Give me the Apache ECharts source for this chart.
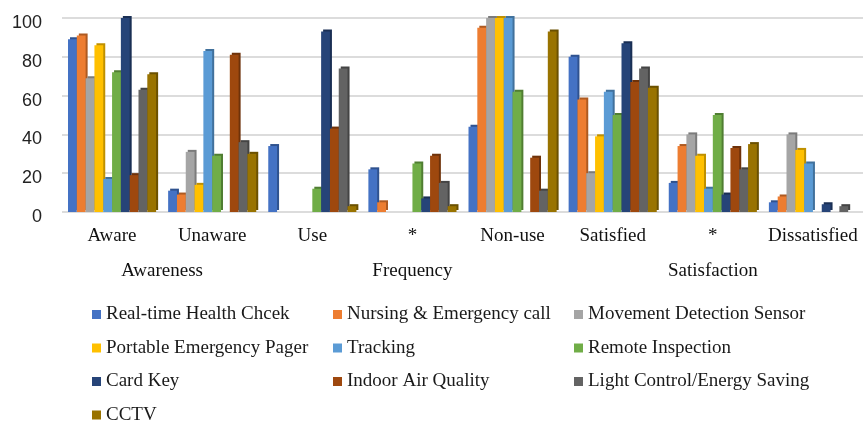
<!DOCTYPE html>
<html>
<head>
<meta charset="utf-8">
<script src="https://cdn.jsdelivr.net/npm/echarts@6/dist/echarts.min.js"></script>
<style>
  html, body { margin: 0; padding: 0; background: #ffffff; }
  #chart { width: 863px; height: 423px; }
</style>
</head>
<body>
<div id="chart"></div>
<script>
// Response categories along the x axis
const categories = ['Aware', 'Unaware', 'Use', '*', 'Non-use', 'Satisfied', '*', 'Dissatisfied'];
// Question groups and the category position where each group label is centred
const groupNames = ['Awareness', 'Frequency', 'Satisfaction'];
const groupCenters = [1, 3.5, 6.5];
// Y axis ticks
const yTicks = { min: 0, max: 100, interval: 20 };

// Service names (legend order) and their values per category (%)
const seriesNames = [
  'Real-time Health Chcek', 'Nursing & Emergency call', 'Movement Detection Sensor',
  'Portable Emergency Pager', 'Tracking', 'Remote Inspection',
  'Card Key', 'Indoor Air Quality', 'Light Control/Energy Saving', 'CCTV'
];
const realTimeHealth   = [89, 11, 34, 22, 44, 80, 15, 5];
const nursingCall      = [91, 9, 0, 5, 95, 58, 34, 8];
const movementSensor   = [69, 31, 0, 0, 100, 20, 40, 40];
const portablePager    = [86, 14, 0, 0, 100, 39, 29, 32];
const tracking         = [17, 83, 0, 0, 100, 62, 12, 25];
const remoteInspection = [72, 29, 12, 25, 62, 50, 50, 0];
const cardKey          = [100, 0, 93, 7, 0, 87, 9, 4];
const indoorAir        = [19, 81, 43, 29, 28, 67, 33, 0];
const lightControl     = [63, 36, 74, 15, 11, 74, 22, 3];
const cctv             = [71, 30, 3, 3, 93, 64, 35, 0];
const seriesValues = [realTimeHealth, nursingCall, movementSensor, portablePager, tracking,
                      remoteInspection, cardKey, indoorAir, lightControl, cctv];

// Face colours and darker side colours for the extruded look
const faceColors = ['#4472C4', '#ED7D31', '#A5A5A5', '#FFC000', '#5B9BD5',
                    '#70AD47', '#264478', '#9E480E', '#636363', '#997300'];
const sideColors = ['#2F528F', '#AE5A21', '#7B7B7B', '#BF9000', '#41719C',
                    '#507E32', '#1A2F54', '#6E320A', '#444444', '#6B5100'];

// Legend columns (series indices per column)
const legendColumns = [[0, 3, 6, 9], [1, 4, 7], [2, 5, 8]];
const legendLefts = [92, 333, 574];

const chart = echarts.init(document.getElementById('chart'), null, { renderer: 'canvas' });

const serifFont = '"Liberation Serif", "Times New Roman", serif';
const sansFont = '"Liberation Sans", Arial, sans-serif';

const series = seriesNames.map((name, i) => ({
  name: name,
  type: 'bar',
  xAxisIndex: 0,
  barGap: '0%',
  barCategoryGap: '12%',
  data: seriesValues[i],
  itemStyle: {
    color: faceColors[i],
    shadowColor: sideColors[i],
    shadowBlur: 0,
    shadowOffsetX: 2,
    shadowOffsetY: -2
  },
  emphasis: { disabled: true }
}));

const legends = legendColumns.map((col, c) => ({
  orient: 'vertical',
  left: legendLefts[c],
  top: 304,
  height: 150,
  padding: 0,
  itemWidth: 9,
  itemHeight: 9,
  itemGap: 12.5,
  icon: 'rect',
  selectedMode: false,
  data: col.map(i => seriesNames[i]),
  textStyle: {
    fontFamily: serifFont,
    fontSize: 19,
    lineHeight: 21,
    color: '#1a1a1a'
  }
}));

chart.setOption({
  animation: false,
  backgroundColor: '#ffffff',
  color: faceColors,
  grid: { left: 62, right: 0, top: 18, bottom: 211, containLabel: false },
  legend: legends,
  xAxis: [
    {
      type: 'category',
      data: categories,
      axisLine: { show: false },
      axisTick: { show: false },
      axisLabel: {
        margin: 15,
        fontFamily: serifFont,
        fontSize: 19,
        color: '#111111',
        interval: 0
      }
    },
    {
      type: 'value',
      min: 0,
      max: categories.length,
      position: 'bottom',
      axisLine: { show: false },
      axisTick: { show: false },
      splitLine: { show: false },
      axisLabel: {
        customValues: groupCenters,
        margin: 50,
        fontFamily: serifFont,
        fontSize: 19,
        color: '#111111',
        formatter: (v) => groupNames[groupCenters.indexOf(v)]
      }
    }
  ],
  yAxis: {
    type: 'value',
    min: yTicks.min,
    max: yTicks.max,
    interval: yTicks.interval,
    axisLine: { show: false },
    axisTick: { show: false },
    axisLabel: {
      margin: 20,
      fontFamily: sansFont,
      fontSize: 18,
      color: '#222222',
      verticalAlign: 'top',
      lineHeight: 10
    },
    splitLine: { lineStyle: { color: '#dcdcdc', width: 2 } }
  },
  series: series
});
</script>
</body>
</html>
